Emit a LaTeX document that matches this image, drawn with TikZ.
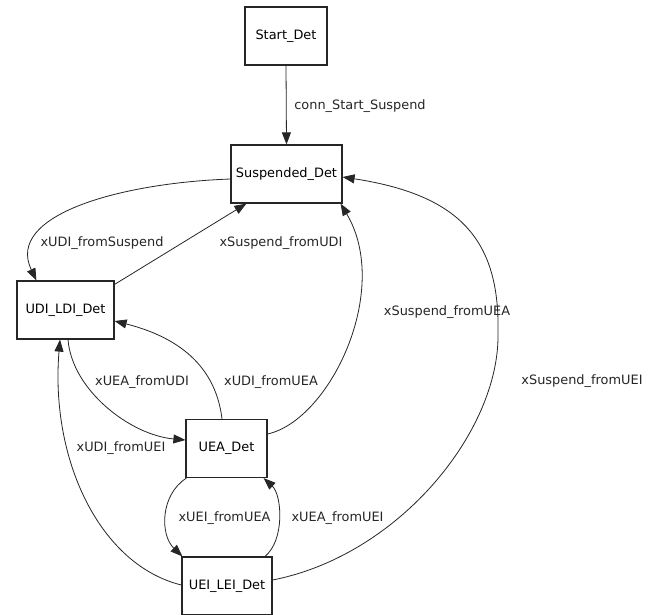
\documentclass[tikz,border=0pt]{standalone}
\usepackage{fontspec}
\setmainfont{DejaVu Sans}
\usetikzlibrary{arrows.meta,calc}
\begin{document}
\begin{tikzpicture}[x=1pt,y=-1pt,
  state/.style={draw=black!85,line width=1.2pt,inner sep=0pt,minimum height=58pt,font=\fontsize{12.9}{14}\selectfont},
  lbl/.style={inner sep=0pt,font=\fontsize{12.9}{14}\selectfont,text=black!85},
  conn/.style={draw=black!85,line width=0.8pt,-{Triangle[length=12pt,width=9pt]}}]
\useasboundingbox[fill=white] (0,0) rectangle (654,614);
\node[state,minimum width=82pt] (start) at (286,36) {Start\_Det};
\node[state,minimum width=111pt] (susp) at (286.5,174) {Suspended\_Det};
\node[state,minimum width=97pt] (udi) at (65.5,310) {UDI\_LDI\_Det};
\node[state,minimum width=81pt] (uea) at (226.5,448.5) {UEA\_Det};
\node[state,minimum width=90pt] (uei) at (227,586) {UEI\_LEI\_Det};
% edges
\draw[conn] (start.south) -- (susp.north);
\draw[conn] ($(susp.west)+(0,5)$) .. controls (120,183) and (5,215) .. ($(udi.north west)+(20,0)$);
\draw[conn] ($(udi.north east)+(0,4)$) -- ($(susp.south west)+(16,0)$);
\draw[conn] ($(udi.south)+(2.5,0)$) .. controls (72,390) and (130,435) .. ($(uea.west)+(0,-8.5)$);
\draw[conn] ($(uea.north)+(-4.5,0)$) .. controls (215,360) and (170,335) .. ($(udi.east)+(0,11)$);
\draw[conn] ($(uea.east)+(0,-14.5)$) .. controls (330,420) and (392,290) .. ($(susp.south east)+(-2,0)$);
\draw[conn] ($(uei.east)+(0,-6)$) .. controls (400,555) and (500,430) .. (498,333)
  .. controls (500,240) and (460,195) .. ($(susp.east)+(0,3)$);
\draw[conn] ($(uei.west)+(0,-1)$) .. controls (100,565) and (50,460) .. ($(udi.south)+(-5.5,0)$);
\draw[conn] ($(uea.south west)+(1,0)$) .. controls (160,495) and (160,535) .. ($(uei.north west)+(1,0)$);
\draw[conn] ($(uei.north)+(38,0)$) .. controls (285,540) and (282,495) .. ($(uea.south east)+(-4,0)$);
% labels
\node[lbl] (l1) at (360,106) {conn\_Start\_Suspend};
\node[lbl] (l2) at (102,243) {xUDI\_fromSuspend};
\node[lbl] (l3) at (281,243) {xSuspend\_fromUDI};
\node[lbl] (l4) at (142,382) {xUEA\_fromUDI};
\node[lbl] (l5) at (271,382) {xUDI\_fromUEA};
\node[lbl] (l6) at (121,448) {xUDI\_fromUEI};
\node[lbl] (l7) at (224.5,518) {xUEI\_fromUEA};
\node[lbl] (l8) at (337.5,518) {xUEA\_fromUEI};
\node[lbl] (l9) at (447,312) {xSuspend\_fromUEA};
\node[lbl] (l10) at (582,381) {xSuspend\_fromUEI};
\end{tikzpicture}
\end{document}
